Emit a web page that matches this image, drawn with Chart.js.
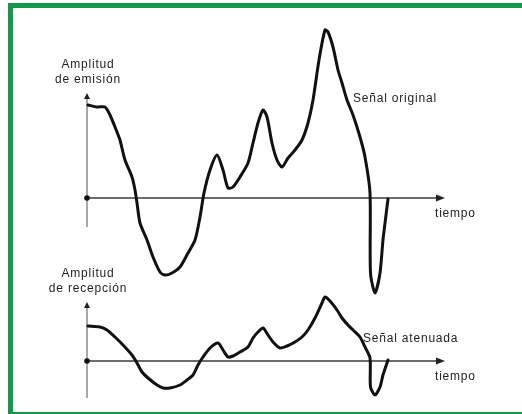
<!DOCTYPE html>
<html lang="es">
<head>
<meta charset="utf-8">
<title>Señal original y señal atenuada</title>
<script src="https://cdn.jsdelivr.net/npm/chart.js@4/dist/chart.umd.min.js"></script>
<style>
  html, body { margin: 0; padding: 0; background: #ffffff; }
  body { width: 522px; height: 414px; position: relative; overflow: hidden; }
  #frame {
    position: absolute; left: 8px; top: 3px; width: 540px; height: 404px;
    border-top: 5px solid #12994a; border-left: 5px solid #12994a; border-bottom: 2px solid #12994a;
  }
  #plot { position: absolute; left: 0; top: 0; }
</style>
</head>
<body>
<div id="frame"></div>
<canvas id="plot" width="522" height="414"></canvas>
<script>
// Time samples and amplitudes of the transmitted signal
const timeOriginal = [1, 10, 18, 23, 30, 33, 38, 45, 48, 50, 53, 60, 66, 73, 78, 85, 93, 101, 108, 113,
  117, 123, 130, 136, 141, 146, 153, 161, 166, 171, 176, 180, 185, 190, 195, 201, 208, 215, 221, 226,
  232, 238, 241, 246, 251, 255, 260, 266, 273, 278, 283, 283.5, 288, 293, 296, 301];
const ampOriginal = [93, 91, 91, 83, 66, 58, 38, 21, 8, -5, -25, -42, -59, -74, -77, -75, -69, -55, -42, -19,
  5, 28, 43, 28, 10, 11, 21, 35, 55, 75, 88, 81, 55, 38, 31, 40, 48, 58, 75, 98,
  138, 168, 166, 151, 128, 115, 98, 83, 61, 41, 5, -75, -95, -75, -42, -1];

// Time samples and amplitudes of the received (attenuated) signal
const timeAttenuated = [1, 13, 20, 28, 36, 45, 50, 55, 61, 70, 76, 83, 93, 100, 106, 111, 116, 123, 131, 136,
  141, 146, 153, 161, 166, 171, 176, 181, 186, 193, 200, 208, 215, 221, 228, 235, 238, 243, 250, 255,
  261, 266, 273, 278, 283, 283.5, 288, 293, 296, 301];
const ampAttenuated = [35, 34, 31, 24, 16, 6, -2, -11, -17, -24, -27, -27, -24, -19, -14, -4, 4, 13, 18, 11,
  4, 5, 9, 14, 23, 29, 33, 26, 19, 13, 15, 19, 24, 31, 43, 58, 64, 60, 51, 43,
  36, 31, 24, 14, 3, -26, -34, -26, -14, 1];

// Text drawn on the figure
const seriesNames = ['Señal original', 'Señal atenuada'];
const axisTitles = [['Amplitud', 'de emisión'], ['Amplitud', 'de recepción']];
const timeLabel = 'tiempo';

const pairs = (xs, ys) => xs.map((x, i) => ({ x: x, y: ys[i] }));

const FONT = '12px "Liberation Sans", Arial, sans-serif';
const INK = '#1e1e1e';

// Draws both coordinate systems: time axis with arrow, amplitude axis with arrow, origin dot
const axesPlugin = {
  id: 'signalAxes',
  beforeDatasetsDraw(chart) {
    const ctx = chart.ctx;
    const xs = chart.scales.x;
    const panels = [
      { scale: chart.scales.yTop, top: 105, bottom: -29 },
      { scale: chart.scales.yBot, top: 59, bottom: -37 }
    ];
    const x0 = xs.getPixelForValue(0);
    const xEnd = xs.getPixelForValue(358);
    ctx.save();
    panels.forEach(p => {
      const y0 = p.scale.getPixelForValue(0);
      const yTop = p.scale.getPixelForValue(p.top);
      const yBottom = p.scale.getPixelForValue(p.bottom);
      // amplitude axis
      ctx.strokeStyle = '#6e6e6e';
      ctx.lineWidth = 1.2;
      ctx.beginPath();
      ctx.moveTo(x0, yBottom);
      ctx.lineTo(x0, yTop + 5);
      ctx.stroke();
      ctx.fillStyle = '#222';
      ctx.beginPath();
      ctx.moveTo(x0, yTop);
      ctx.lineTo(x0 - 3, yTop + 6);
      ctx.lineTo(x0 + 3, yTop + 6);
      ctx.closePath();
      ctx.fill();
      // time axis
      ctx.strokeStyle = '#3a3a3a';
      ctx.lineWidth = 1.5;
      ctx.beginPath();
      ctx.moveTo(x0, y0);
      ctx.lineTo(xEnd - 6, y0);
      ctx.stroke();
      ctx.beginPath();
      ctx.moveTo(xEnd, y0);
      ctx.lineTo(xEnd - 9, y0 - 3.5);
      ctx.lineTo(xEnd - 9, y0 + 3.5);
      ctx.closePath();
      ctx.fill();
      // origin dot
      ctx.fillStyle = '#111';
      ctx.beginPath();
      ctx.arc(x0, y0, 2.8, 0, Math.PI * 2);
      ctx.fill();
    });
    ctx.restore();
  },
  afterDatasetsDraw(chart) {
    const ctx = chart.ctx;
    const xs = chart.scales.x;
    const x0 = xs.getPixelForValue(0);
    const xEnd = xs.getPixelForValue(358);
    const panels = [
      { scale: chart.scales.yTop, top: 105, name: seriesNames[0], nameAt: [266, 99], titles: axisTitles[0] },
      { scale: chart.scales.yBot, top: 59, name: seriesNames[1], nameAt: [276, 22], titles: axisTitles[1] }
    ];
    ctx.save();
    ctx.font = FONT;
    ctx.fillStyle = INK;
    ctx.textBaseline = 'middle';
    if ('letterSpacing' in ctx) ctx.letterSpacing = '0.8px';
    panels.forEach(p => {
      const y0 = p.scale.getPixelForValue(0);
      const yTop = p.scale.getPixelForValue(p.top);
      ctx.textAlign = 'center';
      ctx.fillText(p.titles[0], x0 + 1, yTop - 28);
      ctx.fillText(p.titles[1], x0 + 1, yTop - 13);
      ctx.textAlign = 'left';
      ctx.fillText(timeLabel, xEnd - 10, y0 + 16);
      ctx.fillText(p.name, xs.getPixelForValue(p.nameAt[0]), p.scale.getPixelForValue(p.nameAt[1]));
    });
    ctx.restore();
  }
};

const lineStyle = {
  borderColor: '#111111',
  borderWidth: 3,
  pointRadius: 0,
  tension: 0.25,
  borderJoinStyle: 'round',
  borderCapStyle: 'round',
  fill: false,
  clip: false
};

new Chart(document.getElementById('plot'), {
  type: 'line',
  data: {
    datasets: [
      Object.assign({ label: seriesNames[0], data: pairs(timeOriginal, ampOriginal), yAxisID: 'yTop' }, lineStyle),
      Object.assign({ label: seriesNames[1], data: pairs(timeAttenuated, ampAttenuated), yAxisID: 'yBot' }, lineStyle)
    ]
  },
  options: {
    responsive: false,
    animation: false,
    devicePixelRatio: 1,
    layout: { padding: 0 },
    plugins: { legend: { display: false }, tooltip: { enabled: false }, title: { display: false } },
    scales: {
      x: { type: 'linear', display: false, min: -87, max: 435 },
      yTop: { type: 'linear', display: false, min: -216, max: 198 },
      yBot: { type: 'linear', display: false, min: -53, max: 361 }
    }
  },
  plugins: [axesPlugin]
});
</script>
</body>
</html>
